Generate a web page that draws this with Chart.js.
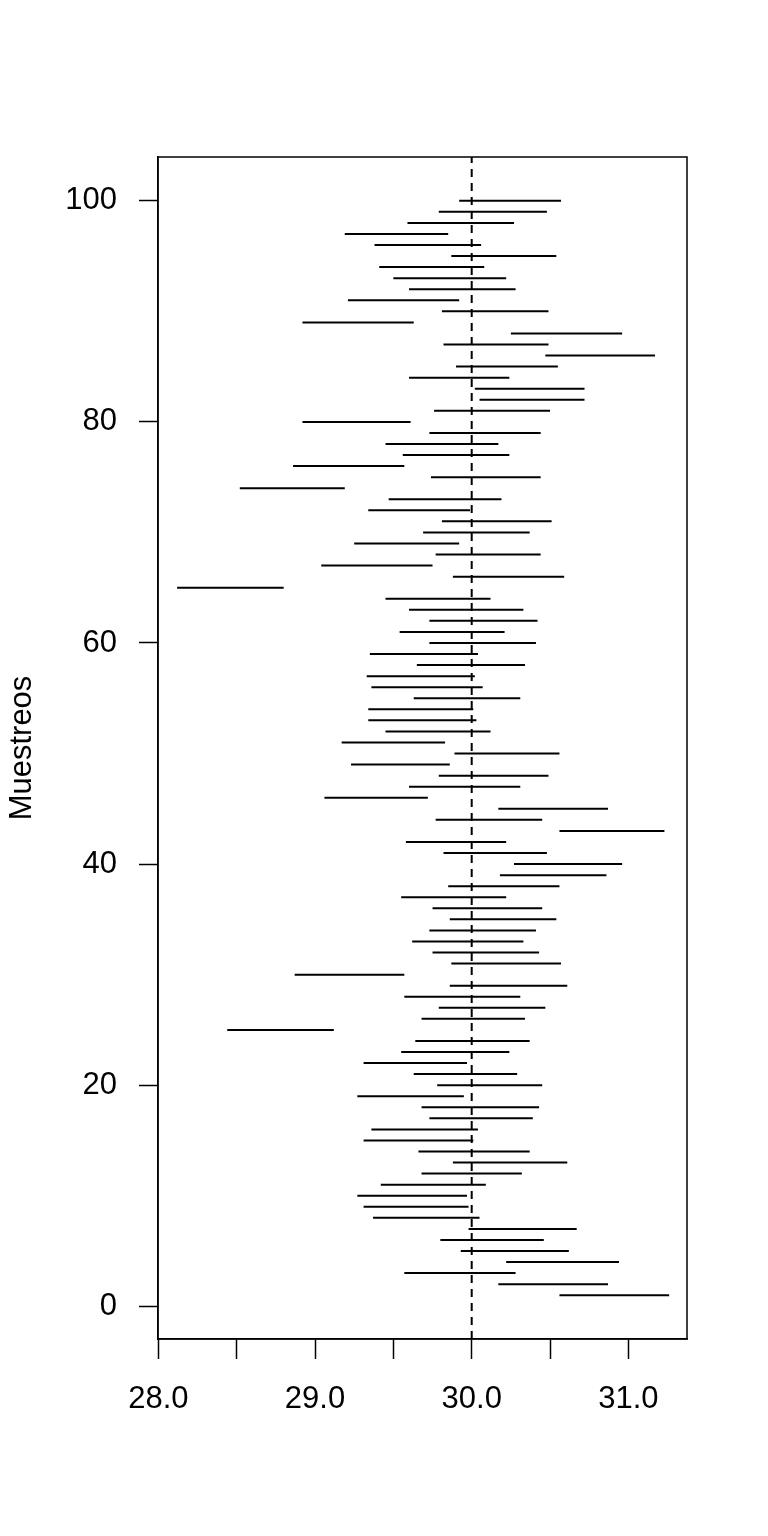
<!DOCTYPE html>
<html lang="es">
<head>
<meta charset="utf-8" />
<title>Intervalos de confianza</title>
<script src="https://cdn.jsdelivr.net/npm/chart.js"></script>
<style>
  body { margin: 0; background: #fff; }
</style>
</head>
<body>
<canvas id="chart" width="768" height="1536"></canvas>
<script>
// muestreo 1..100, limite inferior y superior de cada intervalo
var muestreo = [];
for (var k = 1; k <= 100; k++) muestreo.push(k);

var inferior = [
  30.56, 30.17, 29.57, 30.22, 29.93, 29.80, 29.98, 29.37, 29.31, 29.27,
  29.42, 29.68, 29.88, 29.66, 29.31, 29.36, 29.73, 29.68, 29.27, 29.78,
  29.63, 29.31, 29.55, 29.64, 28.44, 29.68, 29.79, 29.57, 29.86, 28.87,
  29.87, 29.75, 29.62, 29.73, 29.86, 29.75, 29.55, 29.85, 30.18, 30.27,
  29.82, 29.58, 30.56, 29.77, 30.17, 29.06, 29.60, 29.79, 29.23, 29.89,
  29.17, 29.45, 29.34, 29.34, 29.63, 29.36, 29.33, 29.65, 29.35, 29.73,
  29.54, 29.73, 29.60, 29.45, 28.12, 29.88, 29.04, 29.77, 29.25, 29.69,
  29.81, 29.34, 29.47, 28.52, 29.74, 28.86, 29.56, 29.45, 29.73, 28.92,
  29.76, 30.05, 30.02, 29.60, 29.90, 30.47, 29.82, 30.25, 28.92, 29.81,
  29.21, 29.60, 29.50, 29.41, 29.87, 29.38, 29.19, 29.59, 29.79, 29.92
];
var superior = [
  31.26, 30.87, 30.28, 30.94, 30.62, 30.46, 30.67, 30.05, 29.98, 29.97,
  30.09, 30.32, 30.61, 30.37, 30.01, 30.04, 30.39, 30.43, 29.95, 30.45,
  30.29, 29.97, 30.24, 30.37, 29.12, 30.34, 30.47, 30.31, 30.61, 29.57,
  30.57, 30.43, 30.33, 30.41, 30.54, 30.45, 30.22, 30.56, 30.86, 30.96,
  30.48, 30.22, 31.23, 30.45, 30.87, 29.72, 30.31, 30.49, 29.86, 30.56,
  29.83, 30.12, 30.03, 30.01, 30.31, 30.07, 30.02, 30.34, 30.04, 30.41,
  30.21, 30.42, 30.33, 30.12, 28.80, 30.59, 29.75, 30.44, 29.92, 30.37,
  30.51, 29.99, 30.19, 29.19, 30.44, 29.57, 30.24, 30.17, 30.44, 29.61,
  30.50, 30.72, 30.72, 30.24, 30.55, 31.17, 30.49, 30.96, 29.63, 30.49,
  29.92, 30.28, 30.22, 30.08, 30.54, 30.06, 29.85, 30.27, 30.48, 30.57
];
var mediaReal = 30;
var xTicks = [28, 28.5, 29, 29.5, 30, 30.5, 31];
var yTicks = [0, 20, 40, 60, 80, 100];

var fuente = { family: "'Liberation Sans', Arial, sans-serif", size: 31 };

var datasets = [];
for (var i = 0; i < muestreo.length; i++) {
  datasets.push({
    data: [{ x: inferior[i], y: muestreo[i] }, { x: superior[i], y: muestreo[i] }],
    borderColor: '#000',
    borderWidth: 2,
    pointRadius: 0,
    showLine: true
  });
}
datasets.push({
  data: [{ x: mediaReal, y: -2.96 }, { x: mediaReal, y: 103.96 }],
  borderColor: '#000',
  borderWidth: 2,
  borderDash: [8, 6],
  pointRadius: 0,
  showLine: true
});

var caja = {
  id: 'caja',
  afterDraw: function (chart) {
    var a = chart.chartArea, ctx = chart.ctx;
    ctx.save();
    ctx.strokeStyle = '#000';
    ctx.lineWidth = 1.5;
    ctx.strokeRect(a.left, a.top, a.right - a.left, a.bottom - a.top);
    ctx.restore();
  }
};

new Chart(document.getElementById('chart'), {
  type: 'scatter',
  data: { datasets: datasets },
  plugins: [caja],
  options: {
    responsive: false,
    animation: false,
    layout: { padding: { left: 0, top: 157, right: 81, bottom: 0 } },
    plugins: { legend: { display: false }, tooltip: { enabled: false } },
    scales: {
      x: {
        type: 'linear',
        min: 27.998,
        max: 31.374,
        afterFit: function (s) { s.height = 197; },
        afterBuildTicks: function (s) { s.ticks = xTicks.map(function (v) { return { value: v }; }); },
        border: { display: true, color: '#000', width: 1.5 },
        grid: { drawOnChartArea: false, drawTicks: true, tickLength: 20, tickColor: '#000', tickWidth: 1.5 },
        ticks: {
          color: '#000',
          font: fuente,
          padding: 22,
          maxRotation: 0,
          autoSkip: false,
          callback: function (v) { return Number.isInteger(v) ? v.toFixed(1) : ''; }
        }
      },
      y: {
        type: 'linear',
        min: -2.96,
        max: 103.96,
        afterFit: function (s) { s.width = 158; },
        afterBuildTicks: function (s) { s.ticks = yTicks.map(function (v) { return { value: v }; }); },
        border: { display: true, color: '#000', width: 1.5 },
        grid: { drawOnChartArea: false, drawTicks: true, tickLength: 19, tickColor: '#000', tickWidth: 1.5 },
        ticks: {
          color: '#000',
          font: fuente,
          padding: 22,
          autoSkip: false,
          callback: function (v) { return String(v); }
        },
        title: {
          display: true,
          text: 'Muestreos',
          color: '#000',
          font: fuente,
          padding: { top: 4, bottom: 0 }
        }
      }
    }
  }
});
</script>
</body>
</html>
